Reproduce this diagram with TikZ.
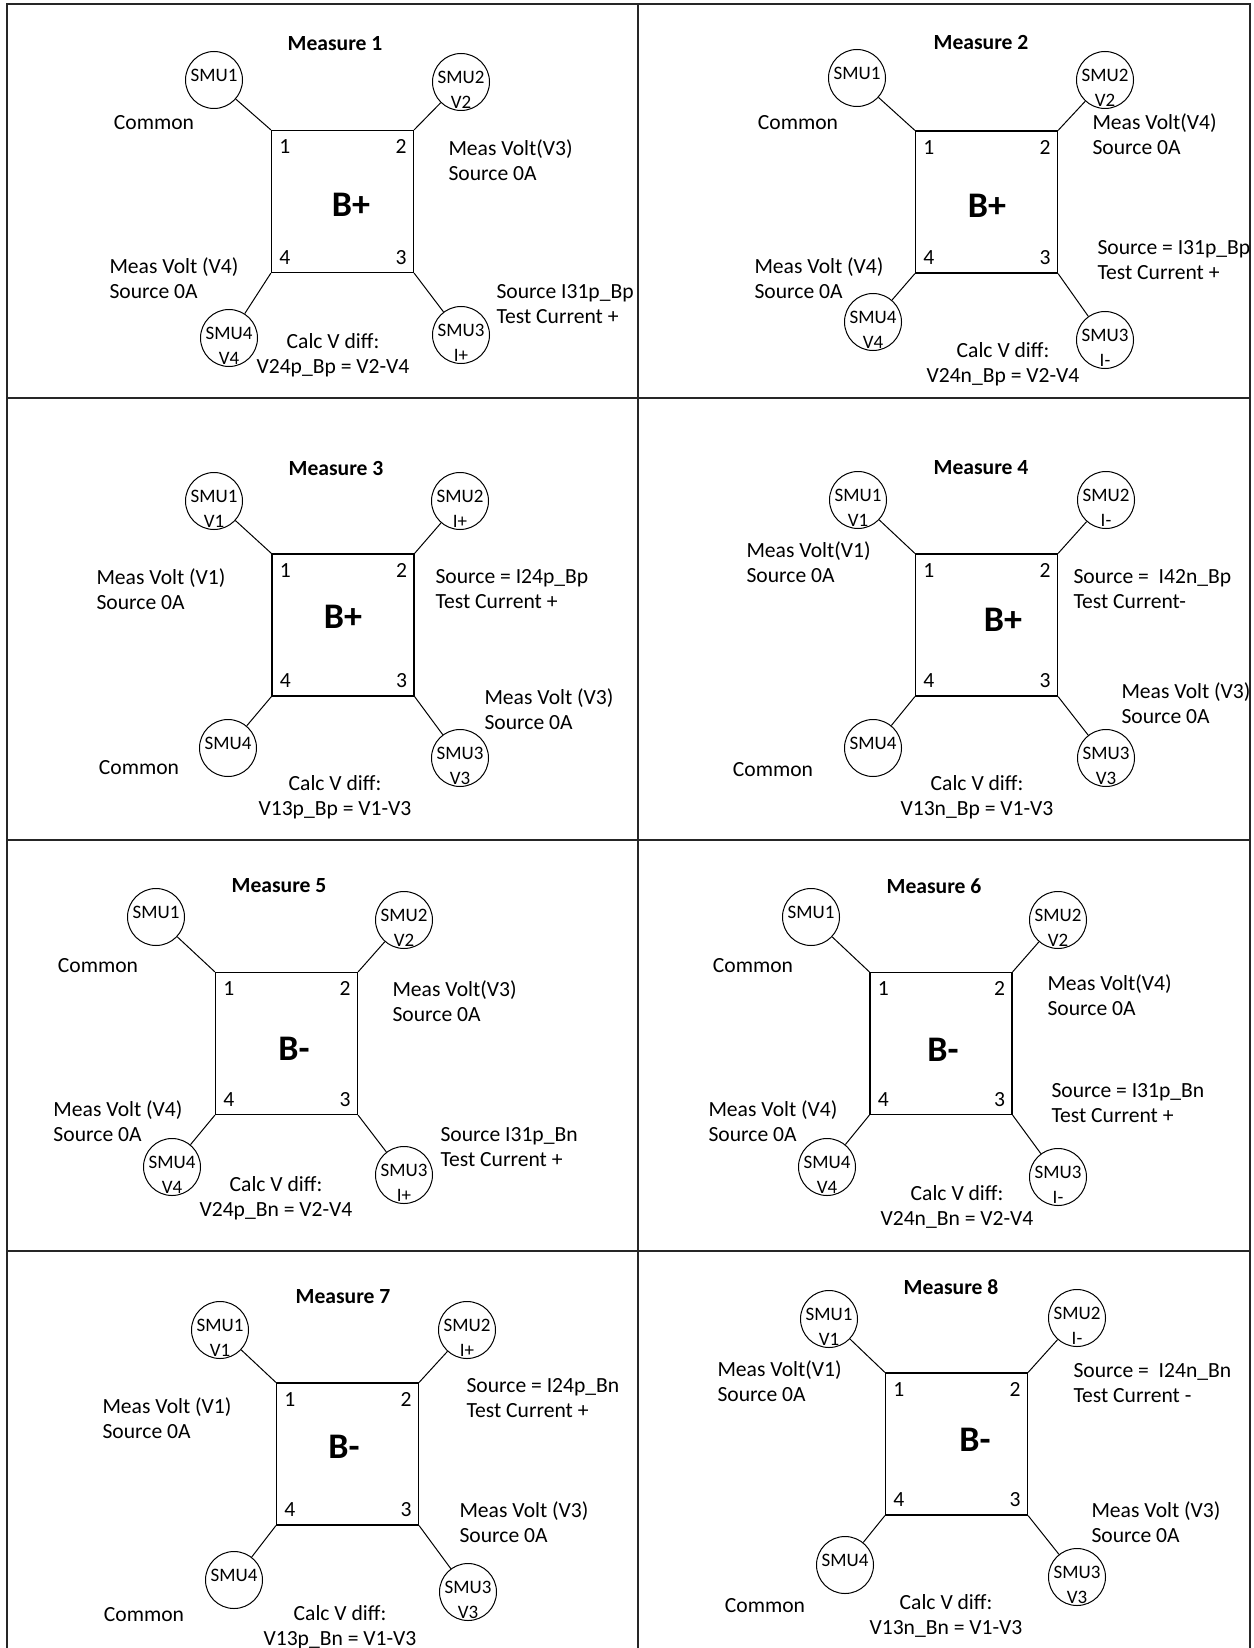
\documentclass[tikz,border=0pt]{standalone}
\usepackage{fontspec}
\setmainfont{Carlito}

\begin{document}
\begin{tikzpicture}[x=0.5pt,y=-0.5pt,line width=0.5pt,
	smu/.style={circle,draw,minimum size=28.5pt,inner sep=0pt},
	smutxt/.style={align=center,inner sep=0pt,font=\fontsize{9.5}{12.5}\selectfont},
	lo/.style={smutxt,yshift=-3.75pt},
	hi/.style={smutxt,yshift=2.5pt},
	chip/.style={draw,minimum size=71pt,inner sep=0pt,line width=0.6pt},
	lbl/.style={align=left,anchor=west,inner sep=0pt,font=\fontsize{10.8}{12.5}\selectfont},
	diff/.style={align=center,inner sep=0pt,font=\fontsize{10.8}{12.5}\selectfont},
	ttl/.style={inner sep=0pt,font=\fontsize{10.8}{12.5}\selectfont\bfseries},
	pnum/.style={inner sep=0pt,font=\fontsize{10.8}{12.5}\selectfont},
	big/.style={inner sep=0pt,font=\fontsize{18}{20}\selectfont\bfseries},
	cellrule/.style={line width=0.9pt,black!85}]
	\useasboundingbox (0,0) rectangle (1253,1648);
	\draw[cellrule] (7,1660) -- (7,4) -- (1250,4) -- (1250,1660);
	\draw[cellrule] (638,4) -- (638,1660) (7,398) -- (1250,398) (7,840) -- (1250,840) (7,1251) -- (1250,1251);

	\node[ttl] (h1) at (335,44) {Measure 1};
	\node[chip] (B1) at (342.5,201.5) {};
	\node[big] (g1) at (351,205) {B+};
	\node[smu,label={[hi]center:SMU1}] (U1-1) at (214,80) {};
	\node[smu,label={[lo]center:SMU2\\V2}] (U1-2) at (461,82) {};
	\node[smu,label={[lo]center:SMU3\\I+}] (U1-3) at (461,335) {};
	\node[smu,label={[lo]center:SMU4\\V4}] (U1-4) at (229,338) {};
	\node[diff] (t1a) at (154,123) {Common};
	\node[lbl] (t1b) at (448,160) {Meas Volt(V3)\\Source 0A};
	\node[lbl] (t1c) at (109,278) {Meas Volt (V4)\\Source 0A};
	\node[lbl] (t1d) at (496,304) {Source I31p\_Bp\\Test Current +};
	\node[diff] (t1e) at (333,355) {Calc V diff:\\V24p\_Bp = V2-V4};

	\node[ttl] (h2) at (981,43) {Measure 2};
	\node[chip] (B2) at (986.5,202) {};
	\node[big] (g2) at (987,206) {B+};
	\node[smu,label={[hi]center:SMU1}] (U2-1) at (857,78) {};
	\node[smu,label={[lo]center:SMU2\\V2}] (U2-2) at (1105,80) {};
	\node[smu,label={[lo]center:SMU3\\I-}] (U2-3) at (1105,340) {};
	\node[smu,label={[lo]center:SMU4\\V4}] (U2-4) at (873,322) {};
	\node[diff] (t2a) at (798,123) {Common};
	\node[lbl] (t2b) at (1092,134) {Meas Volt(V4)\\Source 0A};
	\node[lbl] (t2c) at (754,278) {Meas Volt (V4)\\Source 0A};
	\node[lbl] (t2d) at (1097,260) {Source = I31p\_Bp\\Test Current +};
	\node[diff] (t2e) at (1003,364) {Calc V diff:\\V24n\_Bp = V2-V4};

	\node[ttl] (h3) at (336,468) {Measure 3};
	\node[chip] (B3) at (343,625) {};
	\node[big] (g3) at (343,617) {B+};
	\node[smu,label={[lo]center:SMU1\\V1}] (U3-1) at (214,501) {};
	\node[smu,label={[lo]center:SMU2\\I+}] (U3-2) at (460,501) {};
	\node[smu,label={[lo]center:SMU3\\V3}] (U3-3) at (460,758) {};
	\node[smu,label={[hi]center:SMU4}] (U3-4) at (228,748) {};
	\node[lbl] (t3a) at (96,589) {Meas Volt (V1)\\Source 0A};
	\node[lbl] (t3b) at (435,589) {Source = I24p\_Bp\\Test Current +};
	\node[lbl] (t3c) at (484,709) {Meas Volt (V3)\\Source 0A};
	\node[diff] (t3d) at (139,768) {Common};
	\node[diff] (t3e) at (335,797) {Calc V diff:\\V13p\_Bp = V1-V3};

	\node[ttl] (h4) at (981,468) {Measure 4};
	\node[chip] (B4) at (986.5,625) {};
	\node[big] (g4) at (1003,620) {B+};
	\node[smu,label={[lo]center:SMU1\\V1}] (U4-1) at (858,500) {};
	\node[smu,label={[lo]center:SMU2\\I-}] (U4-2) at (1106,500) {};
	\node[smu,label={[lo]center:SMU3\\V3}] (U4-3) at (1106,758) {};
	\node[smu,label={[hi]center:SMU4}] (U4-4) at (873,748) {};
	\node[lbl] (t4a) at (746,562) {Meas Volt(V1)\\Source 0A};
	\node[lbl] (t4b) at (1073,589) {Source =\ \ I42n\_Bp\\Test Current-};
	\node[lbl] (t4c) at (1121,703) {Meas Volt (V3)\\Source 0A};
	\node[diff] (t4d) at (773,770) {Common};
	\node[diff] (t4e) at (977,797) {Calc V diff:\\V13n\_Bp = V1-V3};

	\node[ttl] (h5) at (279,886) {Measure 5};
	\node[chip] (B5) at (286.5,1043.5) {};
	\node[big] (g5) at (294,1049) {B-};
	\node[smu,label={[hi]center:SMU1}] (U5-1) at (156,917) {};
	\node[smu,label={[lo]center:SMU2\\V2}] (U5-2) at (404,920) {};
	\node[smu,label={[lo]center:SMU3\\I+}] (U5-3) at (404,1175) {};
	\node[smu,label={[lo]center:SMU4\\V4}] (U5-4) at (172,1167) {};
	\node[diff] (t5a) at (98,966) {Common};
	\node[lbl] (t5b) at (392,1001) {Meas Volt(V3)\\Source 0A};
	\node[lbl] (t5c) at (53,1121) {Meas Volt (V4)\\Source 0A};
	\node[lbl] (t5d) at (440,1147) {Source I31p\_Bn\\Test Current +};
	\node[diff] (t5e) at (276,1198) {Calc V diff:\\V24p\_Bn = V2-V4};

	\node[ttl] (h6) at (934,886) {Measure 6};
	\node[chip] (B6) at (941,1043.5) {};
	\node[big] (g6) at (943,1050) {B-};
	\node[smu,label={[hi]center:SMU1}] (U6-1) at (811,917) {};
	\node[smu,label={[lo]center:SMU2\\V2}] (U6-2) at (1058,920) {};
	\node[smu,label={[lo]center:SMU3\\I-}] (U6-3) at (1058,1177) {};
	\node[smu,label={[lo]center:SMU4\\V4}] (U6-4) at (827,1167) {};
	\node[diff] (t6a) at (753,966) {Common};
	\node[lbl] (t6b) at (1047,995) {Meas Volt(V4)\\Source 0A};
	\node[lbl] (t6c) at (708,1121) {Meas Volt (V4)\\Source 0A};
	\node[lbl] (t6d) at (1051,1103) {Source = I31p\_Bn\\Test Current +};
	\node[diff] (t6e) at (957,1207) {Calc V diff:\\V24n\_Bn = V2-V4};

	\node[ttl] (h7) at (343,1297) {Measure 7};
	\node[chip] (B7) at (347.5,1454) {};
	\node[big] (g7) at (344,1447) {B-};
	\node[smu,label={[lo]center:SMU1\\V1}] (U7-1) at (220,1330) {};
	\node[smu,label={[lo]center:SMU2\\I+}] (U7-2) at (467,1330) {};
	\node[smu,label={[lo]center:SMU3\\V3}] (U7-3) at (468,1592) {};
	\node[smu,label={[hi]center:SMU4}] (U7-4) at (234,1580) {};
	\node[lbl] (t7a) at (102,1418) {Meas Volt (V1)\\Source 0A};
	\node[lbl] (t7b) at (466,1398) {Source = I24p\_Bn\\Test Current +};
	\node[lbl] (t7c) at (459,1522) {Meas Volt (V3)\\Source 0A};
	\node[diff] (t7d) at (144,1615) {Common};
	\node[diff] (t7e) at (340,1627) {Calc V diff:\\V13p\_Bn = V1-V3};

	\node[ttl] (h8) at (951,1287) {Measure 8};
	\node[chip] (B8) at (956.5,1444) {};
	\node[big] (g8) at (975,1440) {B-};
	\node[smu,label={[lo]center:SMU1\\V1}] (U8-1) at (829,1319) {};
	\node[smu,label={[lo]center:SMU2\\I-}] (U8-2) at (1077,1318) {};
	\node[smu,label={[lo]center:SMU3\\V3}] (U8-3) at (1077,1577) {};
	\node[smu,label={[hi]center:SMU4}] (U8-4) at (845,1565) {};
	\node[lbl] (t8a) at (717,1381) {Meas Volt(V1)\\Source 0A};
	\node[lbl] (t8b) at (1073,1383) {Source =\ \ I24n\_Bn\\Test Current -};
	\node[lbl] (t8c) at (1091,1522) {Meas Volt (V3)\\Source 0A};
	\node[diff] (t8d) at (765,1606) {Common};
	\node[diff] (t8e) at (946,1616) {Calc V diff:\\V13n\_Bn = V1-V3};

	\foreach \p in {1,...,8}{
		\node[pnum] (k\p-1) at ([shift={(14,17)}]B\p.north west) {1};
		\node[pnum] (k\p-2) at ([shift={(-13,17)}]B\p.north east) {2};
		\node[pnum] (k\p-3) at ([shift={(-13,-16)}]B\p.south east) {3};
		\node[pnum] (k\p-4) at ([shift={(14,-16)}]B\p.south west) {4};
		\path
		(U\p-1) edge (B\p.north west)
		(U\p-2) edge (B\p.north east)
		(U\p-3) edge (B\p.south east)
		(U\p-4) edge (B\p.south west)
		;
	}
\end{tikzpicture}
\end{document}
